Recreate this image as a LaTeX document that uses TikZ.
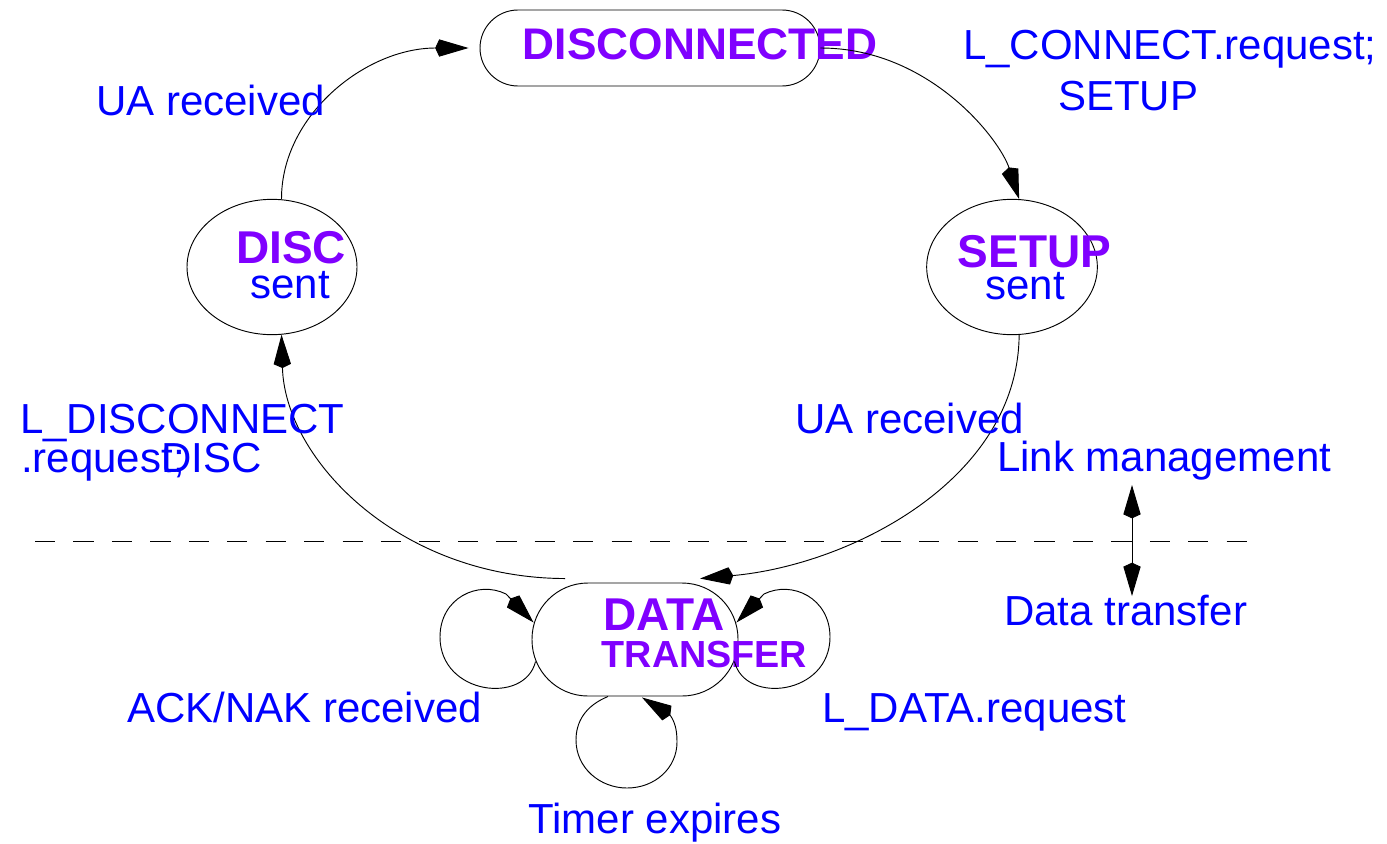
\documentclass[tikz,border=0pt]{standalone}
\usepackage{fontspec}
\setmainfont{Liberation Sans}
\usetikzlibrary{arrows.meta,shapes.geometric}
\definecolor{statepurple}{HTML}{8000FF}
\definecolor{labelblue}{HTML}{0000FF}

\begin{document}
\begin{tikzpicture}[x=0.75pt,y=-0.75pt,
  pill/.style={draw=black, line width=0.7pt, rectangle, inner sep=0pt},
  oval/.style={draw=black, line width=0.7pt, ellipse, inner sep=0pt},
  kitetip/.tip={Kite[length=25pt,width=13pt,inset=3pt]},
  conn/.style={draw=black, line width=0.7pt, -kitetip},
  lbl/.style={text=labelblue, font=\fontsize{31.5}{36}\selectfont, anchor=base west, inner sep=0pt},
  ttl/.style={text=statepurple, font=\bfseries\fontsize{34.5}{40}\selectfont, anchor=base, inner sep=0pt},
  sub/.style={text=labelblue, font=\fontsize{31.5}{36}\selectfont, anchor=base, inner sep=0pt}]

\useasboundingbox (0,0) rectangle (1387,843);
\fill[white] (0,0) rectangle (1387,843);

% states
\node[pill, minimum width=255pt, minimum height=57pt, rounded corners=28.5pt] (dc) at (650,48) {};
\node[pill, minimum width=154.5pt, minimum height=84.75pt, rounded corners=42pt] (dt) at (635,639.5) {};
\node[oval, minimum width=127.5pt, minimum height=101.5pt] (discs) at (272,267) {};
\node[oval, minimum width=128pt, minimum height=101.5pt] (setups) at (1012,267) {};

% state names
\node[ttl, font=\bfseries\fontsize{33.2}{40}\selectfont] (tdc) at (700,59) {DISCONNECTED};
\node[ttl] (tdisc) at (291,263) {DISC};
\node[sub] (tdiscsent) at (290,298) {sent};
\node[ttl] (tsetup) at (1034.5,267) {SETUP};
\node[sub] (tsetupsent) at (1025,299) {sent};
\node[ttl] (tdata) at (664,630) {DATA};
\node[ttl, font=\bfseries\fontsize{28.3}{34}\selectfont] (ttransfer) at (704.5,667) {TRANSFER};

% transitions between states
\draw[conn] (dc.east) .. controls (930,48) and (1000,140) .. (setups.84);
\draw[conn] (setups.276) .. controls (1018,480) and (850,565) .. ([shift={(65,-4)}]dt.north);
\draw[conn] ([shift={(-70,-4)}]dt.north) .. controls (400,578) and (285,460) .. (discs.278);
\draw[conn] (discs.82) .. controls (281,116) and (365,48) .. ([shift={(-11,0)}]dc.west);

% self loops on the data transfer state
\draw[conn] ([shift={(4,22)}]dt.west) .. controls (525,705) and (440,695) .. (440,637)
  .. controls (440,598) and (478,580) .. (506,594) -- ([shift={(2,-17)}]dt.west);
\draw[conn] ([shift={(-4,22)}]dt.east) .. controls (745,705) and (830,695) .. (830,637)
  .. controls (830,598) and (792,580) .. (764,594) -- ([shift={(-2,-17)}]dt.east);
\draw[conn] ([shift={(-27,0)}]dt.south) .. controls (585,706) and (576,722) .. (576,740)
  .. controls (576,768) and (600,788) .. (627,788)
  .. controls (655,788) and (677,768) .. (677,742)
  .. controls (677,730) and (675,722) .. (670,715) -- ([shift={(7,1)}]dt.south);

% transition labels
\node[lbl] (lconn) at (963,59) {L\_CONNECT.request;};
\node[lbl] (lsetup) at (1058,110) {SETUP};
\node[lbl] (lua1) at (96,115) {UA received};
\node[lbl] (lua2) at (795,433) {UA received};
\node[lbl] (ldisc1) at (20,433) {L\_DISCONNECT};
\node[lbl] (ldisc2) at (21,472) {.reques\rlap{t;}DISC};
\node[lbl] (lack) at (127,722) {ACK/NAK received};
\node[lbl] (ldata) at (822,722) {L\_DATA.request};
\node[lbl] (ltimer) at (528,833) {Timer expires};

% layer boundary
\coordinate (sepL) at (35,541);
\coordinate (sepR) at (1247,541);
\draw[dash pattern=on 15.2pt off 13.63pt, line width=0.7pt] (sepL) -- (sepR);
\node[lbl] (llink) at (997,471) {Link management};
\node[lbl] (ltrans) at (1004,625) {Data transfer};
\coordinate (lmarrow) at (1132,485);
\coordinate (dtarrow) at (1132,596);
\draw[line width=0.7pt, kitetip-kitetip] (lmarrow) -- (dtarrow);
\end{tikzpicture}
\end{document}
